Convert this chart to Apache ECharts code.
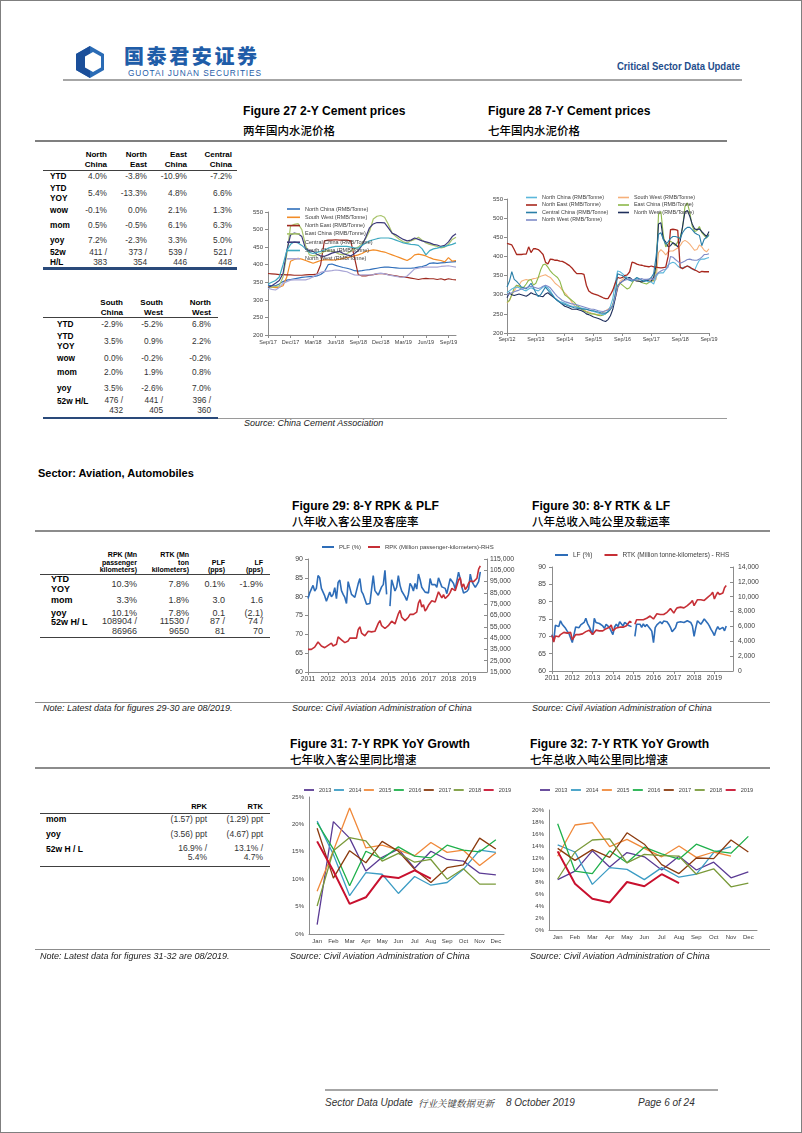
<!DOCTYPE html>
<html><head><meta charset="utf-8">
<script src="https://cdn.jsdelivr.net/npm/echarts@6/dist/echarts.min.js"></script>
<style>
body{margin:0;background:#fff;}
#page{position:relative;width:802px;height:1133px;overflow:hidden;background:#fff;font-family:"Liberation Sans",Arial,sans-serif;color:#000;}
#frame{position:absolute;left:0;top:0;width:800px;height:1131px;border:1px solid #7f7f7f;}
.t{position:absolute;white-space:nowrap;line-height:1.15;transform:translateY(-50%);}
.r{transform:translate(-100%,-50%);text-align:right;}
.nar{transform:translateY(-50%) scaleX(0.93);transform-origin:left center;}
.cjk{font-family:"Noto Sans CJK SC",sans-serif;}
.hl{position:absolute;}
.ch{position:absolute;}
</style></head><body><div id="page"><div id="frame"></div>
<svg style="position:absolute;left:74px;top:45px" width="32" height="34" viewBox="0 0 32 34">
 <polygon points="16,1 30,9 30,25 16,33 2,25 2,9" fill="#2a6bb5"/>
 <path d="M2,9 L16,1 L16,33 L2,25Z" fill="#1b4f9a"/>
 <polygon points="19,7 27,11.5 27,22.5 19,27 11,22.5 11,11.5" fill="#fff"/>
</svg>
<div class="t cjk" style="left:124px;top:56px;font-size:20px;font-weight:900;color:#1f5da8;letter-spacing:2.6px;line-height:1">国泰君安证券</div>
<div class="t" style="left:128px;top:73.5px;font-size:8.3px;color:#1f5da8;letter-spacing:0.9px">GUOTAI JUNAN SECURITIES</div>
<div class="t" style="left:740px;top:67px;font-size:11.5px;font-weight:bold;color:#1f4e8c;transform:translate(-100%,-50%) scaleX(0.83);transform-origin:right center">Critical Sector Data Update</div>
<div class="ch" id="c27" style="left:240px;top:185px;width:250px;height:170px"></div>
<div class="ch" id="c28" style="left:490px;top:185px;width:250px;height:170px"></div>
<div class="ch" id="c29" style="left:280px;top:535px;width:240px;height:155px"></div>
<div class="ch" id="c30" style="left:520px;top:535px;width:240px;height:155px"></div>
<div class="ch" id="c31" style="left:280px;top:780px;width:240px;height:175px"></div>
<div class="ch" id="c32" style="left:520px;top:780px;width:250px;height:175px"></div>
</div>
<script>
// ---------------- DATA ----------------
// Figure 27: 2-Y cement prices, semi-monthly points from Sep/17 to Oct/19
const cem2Months = ['Sep/17','Oct/17','Nov/17','Dec/17','Jan/18','Feb/18','Mar/18','Apr/18','May/18','Jun/18','Jul/18','Aug/18','Sep/18','Oct/18','Nov/18','Dec/18','Jan/19','Feb/19','Mar/19','Apr/19','May/19','Jun/19','Jul/19','Aug/19','Sep/19','Oct/19'];
const cem2NorthChina = [342,340,340,345,352,356,358,360,362,364,365,366,366,368,372,380,400,402,398,395,392,390,387,383,382,383,385,386,388,390,392,393,393,392,391,390,390,390,390,391,393,395,398,404,405,404,405,406,407,408,409];
const cem2SouthWest = [338,336,335,336,340,365,410,415,418,416,412,408,404,408,412,414,414,413,414,415,418,420,422,425,428,432,438,440,442,441,438,436,432,428,424,420,416,412,418,428,430,428,425,420,416,414,412,408,420,410,412];
const cem2NorthEast = [375,374,373,372,372,371,371,370,370,370,371,372,372,373,400,468,470,470,471,470,470,470,468,420,372,368,368,370,372,374,375,374,372,370,368,366,365,364,362,360,358,360,361,360,360,358,360,357,360,358,357];
const cem2EastChina = [335,336,338,340,365,430,510,515,517,500,455,428,425,428,432,438,440,438,435,430,428,432,438,445,450,460,475,495,530,538,540,535,515,490,480,472,465,462,468,472,478,470,462,458,455,452,448,450,458,472,478];
const cem2CentralChina = [335,340,347,355,375,440,485,490,488,480,445,440,438,430,425,424,428,433,436,438,432,428,425,432,440,455,478,505,516,520,520,519,505,490,485,478,472,468,470,476,472,468,465,462,458,456,452,455,465,480,488];
const cem2SouthChina = [345,350,355,365,400,440,458,465,462,455,445,435,432,435,438,442,447,450,452,452,452,452,450,448,447,455,462,468,471,474,476,476,476,474,470,466,462,460,458,457,455,445,428,440,445,447,450,452,455,458,462];
const cem2NorthWest = [333,330,328,335,347,352,356,357,357,357,357,360,366,372,378,381,382,383,385,384,382,380,375,371,370,371,371,371,372,375,376,374,371,369,367,365,364,368,378,388,390,392,393,393,393,393,395,396,397,395,393];

// Figure 28: 7-Y cement prices, monthly Sep/12 - Aug/17 (later months taken from the 2-Y series)
const cem7Years = ['12','13','14','15','16','17','18','19'];
const cem7NorthChinaEarly = [305,310,315,318,320,318,315,312,310,315,318,315,312,310,315,320,322,318,310,300,290,285,282,280,278,275,272,270,270,268,266,265,264,262,260,258,256,254,252,250,248,250,258,270,290,330,362,360,355,350,345,340,338,340,342,340,338,336,335,334];
const cem7NorthEastEarly = [434,432,430,418,405,405,405,406,406,425,410,420,420,418,412,405,385,380,393,392,390,390,388,387,384,380,376,370,362,355,355,355,353,325,310,305,302,300,298,295,292,290,290,300,312,330,345,343,345,350,352,360,385,383,380,378,377,375,374,373];
const cem7CentralChinaEarly = [320,335,360,340,335,328,320,318,315,322,330,318,305,295,300,310,320,312,305,298,290,285,280,276,275,272,270,268,266,265,264,263,262,262,260,258,258,256,255,253,252,252,255,262,270,300,355,352,350,345,340,338,335,340,345,342,338,335,338,340];
const cem7NorthWestAEarly = [300,302,305,308,310,312,315,316,318,320,322,320,318,316,318,322,325,322,318,310,302,295,290,285,282,280,278,276,275,274,272,270,268,266,264,262,262,260,258,257,256,258,260,264,272,295,320,330,335,338,340,342,340,338,338,340,342,340,340,341];
const cem7SouthWestEarly = [278,285,300,310,320,325,335,338,340,338,340,342,343,345,348,350,352,348,345,338,330,325,320,312,305,298,290,280,272,268,265,262,260,257,255,252,250,249,248,250,255,258,262,266,270,290,315,335,340,345,345,342,340,338,335,335,335,336,338,338];
const cem7EastChinaEarly = [280,285,300,318,325,322,318,320,328,338,340,325,330,345,365,378,380,372,362,355,350,345,335,315,300,295,290,285,280,272,268,262,258,255,252,250,250,248,246,245,247,250,255,262,275,300,325,330,325,320,315,318,330,340,338,335,332,330,328,332];
const cem7NorthWestBEarly = [292,305,300,298,300,302,300,298,296,300,305,302,300,298,296,295,302,305,300,295,290,285,280,275,270,268,265,262,262,262,260,258,255,250,248,245,242,240,238,235,232,230,235,245,262,290,320,330,335,340,345,345,340,338,336,335,333,335,338,336];

// Figures 29/30: monthly Jan 2011 - Aug 2019
const avYears = ['2011','2012','2013','2014','2015','2016','2017','2018','2019'];
const plf = [79.5,81.0,81.2,83.0,81.5,82.2,85.6,85.0,82.2,82.4,80.2,78.8,
 79.0,81.2,80.0,80.6,82.4,79.5,83.8,84.4,81.6,80.6,79.8,78.2,
 84.0,83.6,80.6,81.0,79.8,81.6,83.4,84.8,81.4,80.6,80.4,78.0,
 78.0,78.2,82.0,85.6,81.6,81.4,80.4,80.6,82.6,83.2,87.0,80.6,
 null,77.5,84.5,84.0,81.5,82.5,85.6,83.0,81.5,81.8,80.0,79.0,
 80.6,83.5,82.8,81.5,83.5,82.0,86.0,84.5,82.5,82.2,81.2,80.8,
 81.0,84.8,83.2,82.8,83.2,82.5,85.0,84.6,82.6,82.4,82.2,80.8,
 80.6,84.8,84.5,83.5,82.0,81.5,86.5,84.8,82.5,81.0,81.0,81.4,
 82.0,86.0,84.0,83.2,82.5,83.2,84.0,86.6];
const rpk = [35000,34000,35000,36500,37000,36000,41500,41500,38000,39500,36500,37000,
 38500,37500,40500,38000,39500,39500,46000,47500,43500,44000,41000,42000,
 42500,45000,45500,45000,45000,45000,52500,55000,49500,50000,47000,47500,
 51000,50500,50500,50000,51000,52500,58000,60500,56000,57000,53500,54500,
 56000,58000,60000,58500,57500,59000,66500,69500,63500,65000,60500,62000,
 63500,66000,66500,66000,66000,68000,76000,79000,72500,74500,69000,71000,
 74000,76000,78000,77000,77000,78000,86000,87000,80500,83500,80000,81500,
 83000,85500,89000,87500,87000,88000,96500,98500,90000,93000,88000,90000,
 93500,95500,97000,95000,95500,98000,106000,108900];
const lf = [70.5,68.5,73.2,73.5,72.8,74.5,73.5,73.2,72.3,71.5,70.8,70.4,
 68.2,70.5,72.7,73.2,72.5,73.3,73.7,74.0,75.2,73.7,72.8,72.3,
 70.5,75.2,74.0,73.5,73.7,74.2,73.0,72.3,73.5,74.0,72.5,71.5,
 70.5,72.7,73.5,72.8,74.2,73.8,73.0,74.0,73.5,73.2,72.7,72.8,
 null,70.0,73.5,73.0,73.5,72.6,73.6,72.8,73.4,73.0,72.2,71.5,
 68.2,72.5,73.3,72.8,74.2,73.6,74.4,74.0,74.2,73.5,72.6,71.3,
 71.5,72.5,74.0,73.8,74.2,74.6,74.0,74.2,74.5,74.3,74.0,73.0,
 70.0,72.5,74.5,74.0,73.5,74.2,75.0,74.8,73.8,73.0,72.0,71.2,
 70.2,71.8,72.8,72.0,72.2,72.6,71.6,73.0];
const rtk = [4800,3900,4700,4800,4600,4900,5100,5200,5200,5100,5000,5200,
 4200,4400,4900,4800,4900,4900,5000,5200,5300,5400,5500,5600,
 4900,5100,5500,5300,5400,5300,5400,5600,5700,5900,5900,6200,
 5400,5300,5800,5800,5900,5900,5900,6000,6100,6300,6700,6500,
 null,6300,6900,6800,6900,6900,6900,7000,7100,7300,7400,7600,
 7000,7200,7700,7500,7600,7500,7600,7700,7900,8100,8400,8600,
 7800,8200,8500,8400,8600,8500,8500,8600,8800,9000,9200,9500,
 8800,9000,9600,9500,9600,9500,9500,9700,9900,10100,10300,10600,
 9700,10200,10600,10300,10500,10500,11200,11500];

// Figures 31/32: YoY growth (%) by month
const monthsShort = ['Jan','Feb','Mar','Apr','May','Jun','Jul','Aug','Sep','Oct','Nov','Dec'];
const yoyYears = ['2013','2014','2015','2016','2017','2018','2019'];
const rpkYoy2013 = [1.7,20.5,17.5,11.5,14.0,15.5,12.0,15.1,13.6,13.3,11.1,10.8];
const rpkYoy2014 = [20.6,14.5,7.0,11.2,10.9,7.4,10.5,8.9,9.4,11.8,15.3,14.9];
const rpkYoy2015 = [7.8,15.2,23.0,15.7,16.2,15.3,14.3,16.7,14.9,15.3,12.5,14.8];
const rpkYoy2016 = [20.3,15.5,8.8,15.1,13.7,15.9,14.2,13.9,16.2,15.3,15.0,17.2];
const rpkYoy2017 = [19.3,10.2,15.2,13.0,16.9,15.1,11.8,9.4,12.1,12.6,17.5,15.5];
const rpkYoy2018 = [5.1,15.2,17.6,17.0,13.3,14.7,13.1,13.6,10.0,11.9,9.1,9.1];
const rpkYoy2019 = [16.9,11.5,5.5,6.7,10.6,10.2,11.6,10.1];
const rtkYoy2013 = [8.4,9.8,13.2,10.5,12.9,12.2,10.0,12.3,10.0,11.3,8.7,9.7];
const rtkYoy2014 = [14.2,13.0,7.6,10.4,10.1,8.4,10.4,8.8,9.3,12.9,13.9];
const rtkYoy2015 = [12.3,17.5,17.9,13.9,15.1,13.6,12.2,14.0,12.1,13.0,12.3];
const rtkYoy2016 = [17.7,9.8,9.4,13.2,11.2,13.8,12.7,11.8,14.3,13.2,12.8,15.6];
const rtkYoy2017 = [13.6,11.6,13.4,12.1,16.2,14.3,10.9,9.4,12.0,11.9,15.0,13.0];
const rtkYoy2018 = [8.5,13.0,15.0,15.2,11.2,12.6,12.4,12.3,9.3,10.2,7.2,7.8];
const rtkYoy2019 = [13.1,7.7,5.2,4.6,8.0,7.3,9.3,7.8];

// Tables
const cemCols1 = [['North','China'],['North','East'],['East','China'],['Central','China']];
const cemRows1 = [
 [['YTD'],['4.0%'],['-3.8%'],['-10.9%'],['-7.2%']],
 [['YTD','YOY'],['5.4%'],['-13.3%'],['4.8%'],['6.6%']],
 [['wow'],['-0.1%'],['0.0%'],['2.1%'],['1.3%']],
 [['mom'],['0.5%'],['-0.5%'],['6.1%'],['6.3%']],
 [['yoy'],['7.2%'],['-2.3%'],['3.3%'],['5.0%']],
 [['52w','H/L'],['411 /','383'],['373 /','354'],['539 /','446'],['521 /','448']]];
const cemCols2 = [['South','China'],['South','West'],['North','West']];
const cemRows2 = [
 [['YTD'],['-2.9%'],['-5.2%'],['6.8%']],
 [['YTD','YOY'],['3.5%'],['0.9%'],['2.2%']],
 [['wow'],['0.0%'],['-0.2%'],['-0.2%']],
 [['mom'],['2.0%'],['1.9%'],['0.8%']],
 [['yoy'],['3.5%'],['-2.6%'],['7.0%']],
 [['52w H/L'],['476 /','432'],['441 /','405'],['396 /','360']]];
const avCols = [['RPK (Mn','passenger','kilometers)'],['RTK (Mn','ton','kilometers)'],['','PLF','(pps)'],['','LF','(pps)']];
const avRows = [
 [['YTD','YOY'],['10.3%'],['7.8%'],['0.1%'],['-1.9%']],
 [['mom'],['3.3%'],['1.8%'],['3.0'],['1.6']],
 [['yoy'],['10.1%'],['7.8%'],['0.1'],['(2.1)']],
 [['52w H/ L'],['108904 /','86966'],['11530 /','9650'],['87 /','81'],['74 /','70']]];
const yoyCols = [['RPK'],['RTK']];
const yoyRows = [
 [['mom'],['(1.57) ppt'],['(1.29) ppt']],
 [['yoy'],['(3.56) ppt'],['(4.67) ppt']],
 [['52w H / L'],['16.9% /','5.4%'],['13.1% /','4.7%']]];

// ---------------- PAGE TEXT ----------------
const page = document.getElementById('page');
function T(x,y,s,style,cls){const d=document.createElement('div');d.className='t '+(cls||'');d.style.left=x+'px';d.style.top=y+'px';d.style.cssText+=';'+(style||'');d.textContent=s;page.appendChild(d);return d;}
function L(x1,x2,y,w,c){const d=document.createElement('div');d.className='hl';d.style.cssText=`left:${x1}px;top:${y-w/2}px;width:${x2-x1}px;height:${w}px;background:${c}`;page.appendChild(d);}
const titleS='font-size:13px;font-weight:bold;';
const cnS='font-size:11.5px;font-weight:500;';
const srcS='font-size:9px;font-style:italic;color:#222;';
L(63,742,80,2,'#a6a6a6');
T(243,111,'Figure 27 2-Y Cement prices',titleS,'nar');
T(243,131,'两年国内水泥价格',cnS,'cjk');
T(488,111,'Figure 28 7-Y Cement prices',titleS,'nar');
T(488,131,'七年国内水泥价格',cnS,'cjk');
L(35,727,141,1.2,'#7f7f7f');
L(218,727,418,1,'#9a9a9a');
T(244,423,'Source: China Cement Association',srcS);
T(38,473,'Sector: Aviation, Automobiles','font-size:11px;font-weight:bold;');
T(292,506,'Figure 29: 8-Y RPK & PLF',titleS,'nar');
T(292,522,'八年收入客公里及客座率',cnS,'cjk');
T(532,506,'Figure 30: 8-Y RTK & LF',titleS,'nar');
T(532,522,'八年总收入吨公里及载运率',cnS,'cjk');
L(35,770,531,1.5,'#8c8c8c');
L(35,770,702,1,'#8c8c8c');
T(43,708,'Note: Latest data for figures 29-30 are 08/2019.',srcS);
T(292,708,'Source: Civil Aviation Administration of China',srcS);
T(532,708,'Source: Civil Aviation Administration of China',srcS);
T(290,744,'Figure 31: 7-Y RPK YoY Growth',titleS,'nar');
T(290,760,'七年收入客公里同比增速',cnS,'cjk');
T(530,744,'Figure 32: 7-Y RTK YoY Growth',titleS,'nar');
T(530,760,'七年总收入吨公里同比增速',cnS,'cjk');
L(35,770,768,1.5,'#8c8c8c');
L(35,770,949,1,'#8c8c8c');
T(40,956,'Note: Latest data for figures 31-32 are 08/2019.',srcS);
T(290,956,'Source: Civil Aviation Administration of China',srcS);
T(530,956,'Source: Civil Aviation Administration of China',srcS);
L(325,718,1090,2,'#a6a6a6');
const footS='font-size:10px;font-style:italic;color:#333;';
T(325,1103,'Sector Data Update',footS);
T(418,1103,'行业关键数据更新',footS+'font-size:9.5px;font-family:"Noto Serif CJK SC","Noto Sans CJK SC",serif;');
T(506,1103,'8 October 2019',footS);
T(638,1103,'Page 6 of 24',footS);

// ---------------- TABLES ----------------
function table(cfg,cols,rows){
  cols.forEach((lines,ci)=>{lines.forEach((s,li)=>{ if(s) T(cfg.cols[ci], cfg.headY+li*cfg.headLH, s, `font-size:${cfg.headFS}px;font-weight:bold;`, 'r');});});
  rows.forEach((row,ri)=>{
    const yc=cfg.rowY[ri];
    const maxN=Math.max(...row.map(c=>c.length));
    row.forEach((cell,ci)=>{
      const n=cell.length;
      cell.forEach((s,li)=>{
        let y=yc+(li-(n-1)/2)*cfg.lh;
        if(ci===0 && n===1 && maxN>1) y=yc-(maxN-1)/2*cfg.lh+1;
        if(ci===0) T(cfg.labelX,y,s,`font-size:${cfg.fs}px;font-weight:bold;`);
        else T(cfg.cols[ci-1],y,s,`font-size:${cfg.fs}px;color:#333;`,'r');
      });
    });
  });
  L(cfg.x1,cfg.x2,cfg.headLine,1,'#404040');
  L(cfg.x1,cfg.x2,cfg.bottomLine,cfg.bw,cfg.bc);
}
table({cols:[107,147,187,232],headY:155,headLH:10,headFS:8,labelX:50,fs:8.3,lh:10,rowY:[177,194,211,226,241,258],x1:43,x2:237,headLine:170,bottomLine:268.5,bw:2.2,bc:'#2a4a7a'},cemCols1,cemRows1);
table({cols:[123,163,211],headY:303,headLH:10,headFS:8,labelX:57,fs:8.3,lh:10,rowY:[325,342,359,373,389,406],x1:43,x2:218,headLine:317,bottomLine:418,bw:2.2,bc:'#2a4a7a'},cemCols2,cemRows2);
table({cols:[137,189,225,263],headY:555,headLH:7.6,headFS:7,labelX:51,fs:9,lh:9.5,rowY:[584,600,613,626],x1:40,x2:270,headLine:574,bottomLine:637,bw:1,bc:'#404040'},avCols,avRows);
table({cols:[207,263],headY:807,headLH:9,headFS:7.5,labelX:46,fs:8.5,lh:9,rowY:[820,835,853],x1:40,x2:270,headLine:813,bottomLine:866,bw:1,bc:'#404040'},yoyCols,yoyRows);

// ---------------- CHARTS ----------------
const AX='#8c8c8c', LBL='#404040', FF='Liberation Sans';
function axisBase(extra){return Object.assign({axisLine:{show:true,lineStyle:{color:AX,width:1}},axisTick:{show:true,length:3,lineStyle:{color:AX}},splitLine:{show:false},axisLabel:{color:LBL,fontSize:6.5,fontFamily:FF}},extra||{});}
function ln(name,data,color,width,yi){return {type:'line',name,data,symbol:'none',showSymbol:false,yAxisIndex:yi||0,lineStyle:{color,width:width||1.2},itemStyle:{color},emphasis:{disabled:true},connectNulls:false,animation:false};}
const legTxt=(fs,lh)=>({fontSize:fs,color:LBL,fontFamily:FF,lineHeight:lh});
const legBase=(o)=>Object.assign({icon:'rect',itemHeight:1.6,padding:0,selectedMode:false},o);

// Fig 27
const cem2Idx = cem2NorthChina.map((v,i)=>String(i));
const c27 = echarts.init(document.getElementById('c27'));
const s27 = [
 ln('North China (RMB/Tonne)',cem2NorthChina,'#2f6eba'),
 ln('South West (RMB/Tonne)',cem2SouthWest,'#f28c28'),
 ln('North East (RMB/Tonne)',cem2NorthEast,'#9e2a1f'),
 ln('East China (RMB/Tonne)',cem2EastChina,'#a9c46c'),
 ln('Central China (RMB/Tonne)',cem2CentralChina,'#3d3a7a'),
 ln('South China (RMB/Tonne)',cem2SouthChina,'#3fa9c0'),
 ln('North West (RMB/Tonne)',cem2NorthWest,'#a9a6d6')];
c27.setOption({animation:false,
 grid:{left:28,right:34,top:27,bottom:20,outerBoundsMode:'none',containLabel:false},
 legend:legBase({orient:'vertical',left:47,top:20,itemWidth:13,itemGap:0.3,textStyle:legTxt(5.5,8),data:s27.map(s=>s.name)}),
 xAxis:axisBase({type:'category',boundaryGap:false,data:cem2Idx,
   axisLabel:{color:LBL,fontSize:5.5,fontFamily:FF,margin:4,interval:(i)=>i%6===0,formatter:(v)=>cem2Months[Number(v)/2]||''},
   axisTick:{show:true,length:3,interval:(i)=>i%6===0,lineStyle:{color:AX}}}),
 yAxis:axisBase({type:'value',min:200,max:550,interval:50,axisLabel:{color:LBL,fontSize:6,fontFamily:FF,margin:5}}),
 series:s27});

// Fig 28
const sample2 = a => a.filter((v,i)=>i%2===0 && i<=48);
const cem7Months=[]; const mNames=['Jan','Feb','Mar','Apr','May','Jun','Jul','Aug','Sep','Oct','Nov','Dec'];
for(let y=0;y<cem7Years.length;y++){for(let m=0;m<12;m++){ if((y===0&&m<8)||(y===cem7Years.length-1&&m>8)) continue; cem7Months.push(mNames[m]+'/'+cem7Years[y]); }}
const c28 = echarts.init(document.getElementById('c28'));
const s28a = [
 ln('North China (RMB/Tonne)',cem7NorthChinaEarly.concat(sample2(cem2NorthWest)),'#5bb7db',1.1),
 ln('North East (RMB/Tonne)',cem7NorthEastEarly.concat(sample2(cem2NorthEast)),'#a8281e',1.3),
 ln('Central China (RMB/Tonne)',cem7CentralChinaEarly.concat(sample2(cem2SouthChina)),'#2a7fa8',1.1),
 ln('North West (RMB/Tonne)',cem7NorthWestAEarly.concat(sample2(cem2NorthChina)),'#7f8cc8',1.1)];
const s28b = [
 ln('South West (RMB/Tonne)',cem7SouthWestEarly.concat(sample2(cem2SouthWest)),'#f6b07a',1.1),
 ln('East China (RMB/Tonne)',cem7EastChinaEarly.concat(sample2(cem2EastChina)),'#8db84a',1.1),
 ln('North West (RMB/Tonne) ',cem7NorthWestBEarly.concat(sample2(cem2CentralChina)),'#1f2f5c',1.1)];
c28.setOption({animation:false,
 grid:{left:17,right:31,top:14,bottom:22,outerBoundsMode:'none',containLabel:false},
 legend:[
  legBase({orient:'vertical',left:36,top:9,itemWidth:11,itemGap:0.5,textStyle:legTxt(5.4,7),data:s28a.map(s=>s.name)}),
  legBase({orient:'vertical',left:128,top:9,itemWidth:11,itemGap:0.5,textStyle:legTxt(5.4,7),data:s28b.map(s=>s.name)})],
 xAxis:axisBase({type:'category',boundaryGap:false,data:cem7Months,
   axisLabel:{color:LBL,fontSize:5.4,fontFamily:FF,margin:4,interval:(i)=>i%12===0},
   axisTick:{show:true,length:3,interval:(i)=>i%12===0,lineStyle:{color:AX}}}),
 yAxis:axisBase({type:'value',min:200,max:550,interval:50,axisLabel:{color:LBL,fontSize:6,fontFamily:FF,margin:4}}),
 series:s28b.concat(s28a)});

// Fig 29 / 30
const ymCats=[]; avYears.forEach(y=>mNames.forEach(m=>ymCats.push(y+'-'+m)));
const comma=v=>String(v).replace(/\B(?=(\d{3})+(?!\d))/g,',');
function avX(){return axisBase({type:'category',boundaryGap:false,data:ymCats,
   axisLabel:{color:LBL,fontSize:6.8,fontFamily:FF,margin:4,interval:(i)=>i%12===0,formatter:(v)=>v.split('-')[0]},
   axisTick:{show:true,length:3,interval:(i)=>i%12===0,lineStyle:{color:AX}}});}
const rightAx=(o)=>axisBase(Object.assign({type:'value',position:'right',axisTick:{show:true,inside:true,length:3,lineStyle:{color:AX}}},o));
const c29 = echarts.init(document.getElementById('c29'));
c29.setOption({animation:false,
 grid:{left:28,right:33,top:24,bottom:18,outerBoundsMode:'none',containLabel:false},
 legend:legBase({left:42,top:8,itemWidth:12,itemHeight:2,itemGap:7,textStyle:legTxt(6,8),data:['PLF (%)','RPK (Million passenger-kilometers)-RHS']}),
 xAxis:avX(),
 yAxis:[axisBase({type:'value',min:60,max:90,interval:5,axisLabel:{color:LBL,fontSize:7,fontFamily:FF,margin:5}}),
        rightAx({min:15000,max:115000,interval:10000,axisLabel:{color:LBL,fontSize:6.8,fontFamily:FF,margin:3,formatter:comma}})],
 series:[ln('PLF (%)',plf,'#2e6db8',1.6,0),ln('RPK (Million passenger-kilometers)-RHS',rpk,'#c62f36',1.6,1)]});
const c30 = echarts.init(document.getElementById('c30'));
c30.setOption({animation:false,
 grid:{left:32,right:27,top:32,bottom:19,outerBoundsMode:'none',containLabel:false},
 legend:legBase({left:35,top:16,itemWidth:13,itemHeight:2,itemGap:12,textStyle:legTxt(6.5,8),data:['LF (%)','RTK (Million tonne-kilometers) - RHS']}),
 xAxis:avX(),
 yAxis:[axisBase({type:'value',min:60,max:90,interval:5,axisLabel:{color:LBL,fontSize:7,fontFamily:FF,margin:6}}),
        rightAx({min:0,max:14000,interval:2000,axisLabel:{color:LBL,fontSize:6.8,fontFamily:FF,margin:5,formatter:comma}})],
 series:[ln('LF (%)',lf,'#2e6db8',1.6,0),ln('RTK (Million tonne-kilometers) - RHS',rtk,'#c62f36',1.6,1)]});

// Fig 31 / 32
const yoyColors=['#5b3b94','#3c9cc4','#f0893a','#1fb04b','#8b3a0e','#7a9a3a','#c8102e'];
function yoyOpt(arrs,max,step,grid,legLeft,gap){
  return {animation:false,grid:Object.assign({outerBoundsMode:'none',containLabel:false},grid),
   legend:legBase({left:legLeft,top:6,width:235,itemWidth:10,itemHeight:1.8,itemGap:gap,textStyle:legTxt(5.6,8),data:yoyYears}),
   xAxis:axisBase({type:'category',boundaryGap:true,data:monthsShort,axisTick:{show:false},axisLabel:{color:LBL,fontSize:6,fontFamily:FF,margin:4,interval:0}}),
   yAxis:axisBase({type:'value',min:0,max:max,interval:step,axisTick:{show:false},axisLabel:{color:LBL,fontSize:6,fontFamily:FF,margin:5,formatter:'{value}%'}}),
   series:arrs.map((a,i)=>ln(yoyYears[i],a,yoyColors[i],i===6?2:1.3))};
}
echarts.init(document.getElementById('c31')).setOption(yoyOpt([rpkYoy2013,rpkYoy2014,rpkYoy2015,rpkYoy2016,rpkYoy2017,rpkYoy2018,rpkYoy2019],25,5,{left:29,right:16,top:17,bottom:21},24,2.5));
echarts.init(document.getElementById('c32')).setOption(yoyOpt([rtkYoy2013,rtkYoy2014,rtkYoy2015,rtkYoy2016,rtkYoy2017,rtkYoy2018,rtkYoy2019],20,2,{left:29,right:13,top:30,bottom:25},20,3.5));
</script>
</body></html>
